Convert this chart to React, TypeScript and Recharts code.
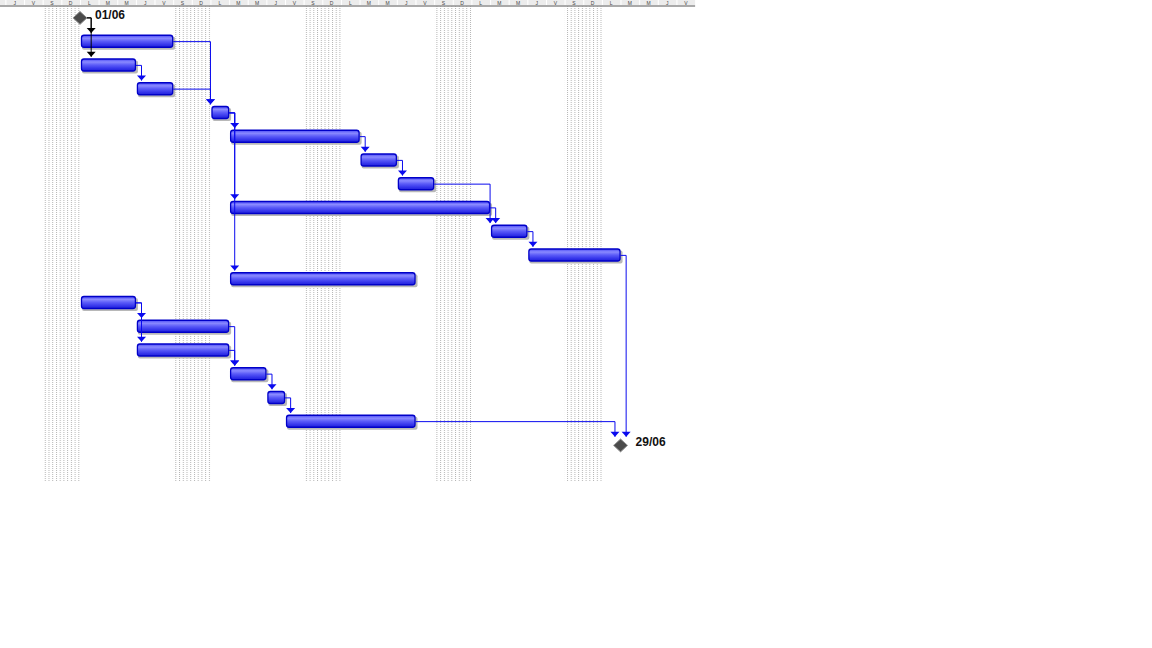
import React from 'react'
import { ComposedChart, Bar, XAxis, YAxis, ReferenceArea, ReferenceLine, ReferenceDot } from 'recharts'

// rows of the plan, top to bottom. days are counted from Monday 01/06
const taskIds = ['M0', 'T1', 'T2', 'T3', 'T4', 'T5', 'T6', 'T7', 'T8', 'T9', 'T10', 'T11', 'T12', 'T13', 'T14', 'T15', 'T16', 'T17', 'M18', '']
const taskStarts = [null, 0, 0, 3, 7, 8, 15, 17, 8, 22, 24, 8, 0, 3, 3, 8, 10, 11, null, null]
const taskEnds = [null, 5, 3, 5, 8, 15, 17, 19, 22, 24, 29, 18, 3, 8, 8, 10, 11, 18, null, null]

const milestones = [
    { row: 0, day: 0, label: '01/06' },
    { row: 18, day: 29, label: '29/06' },
]

// predecessor -> successor (row numbers)
const links: [number, number][] = [
    [0, 1], [0, 2], [1, 4], [2, 3], [3, 4], [4, 5], [4, 8], [4, 11], [5, 6], [6, 7],
    [7, 9], [8, 9], [9, 10], [10, 18], [17, 18], [12, 13], [12, 14], [13, 15], [14, 15],
    [15, 16], [16, 17],
]

// weekends (start day, end day)
const weekends = [[-2, 0], [5, 7], [12, 14], [19, 21], [26, 28]]

// header: one cell per day, ticks at the right edge of each cell (days -5 .. 32)
const headerTicks = [-4, -3, -2, -1, 0, 1, 2, 3, 4, 5, 6, 7, 8, 9, 10, 11, 12, 13, 14, 15, 16, 17, 18, 19, 20, 21, 22, 23, 24, 25, 26, 27, 28, 29, 30, 31, 32, 33]
const headerLetters = ['M', 'J', 'V', 'S', 'D', 'L', 'M', 'M', 'J', 'V', 'S', 'D', 'L', 'M', 'M', 'J', 'V', 'S', 'D', 'L', 'M', 'M', 'J', 'V', 'S', 'D', 'L', 'M', 'M', 'J', 'V', 'S', 'D', 'L', 'M', 'M', 'J', 'V']

const DAY_PX = 18.64
const ORIGIN_PX = 80
const X_MIN = -ORIGIN_PX / DAY_PX
const X_MAX = 33
const PLOT_RIGHT = ORIGIN_PX + X_MAX * DAY_PX
const ARROW_GAP = 0.36

const rows = taskIds.map((task, i) => ({
    task,
    row: i,
    span: taskStarts[i] == null ? null : [taskStarts[i], taskEnds[i]],
}))

const isMilestone = (row: number) => milestones.some(m => m.row === row)
const msDay = (row: number) => milestones.find(m => m.row === row)!.day

function linkGeometry([from, to]: [number, number]) {
    const srcEnd = isMilestone(from) ? msDay(from) : (taskEnds[from] as number)
    let elbow: number
    if (isMilestone(to)) {
        const d = msDay(to)
        elbow = srcEnd >= d ? srcEnd + 0.3 : d - 0.3
    } else {
        const tgt = taskStarts[to] as number
        const off = isMilestone(from) ? 0.6 : 0.3
        elbow = tgt > srcEnd + off ? tgt : srcEnd + off
    }
    return { from, to, srcEnd, elbow, color: isMilestone(from) ? '#000000' : '#0a0aee' }
}

const HeaderCell = (props: any) => {
    const { x, index } = props
    const left = x - DAY_PX
    const mid = left + DAY_PX / 2
    return (
        <g>
            <rect x={left} y={0} width={DAY_PX} height={5} fill="#ececec" />
            <line x1={left + 0.5} x2={left + 0.5} y1={0} y2={5} stroke="#ffffff" />
            {mid > 3 && (
                <text x={mid} y={4.6} textAnchor="middle" fontSize={5}
                    fontFamily="Liberation Sans, Arial, sans-serif" fill="#444">{headerLetters[index]}</text>
            )}
        </g>
    )
}

const GanttBar = (props: any) => {
    const { x, y, width, height } = props
    if (!width || width <= 0) return <g />
    return (
        <g>
            <rect x={x + 2} y={y + 2} width={width} height={height} rx={2} fill="#b8b8b8" />
            <rect x={x + 1.5} y={y + 0.5} width={width - 2} height={height - 1} rx={2.5}
                fill="url(#barFill)" stroke="#0000c8" strokeWidth={1.3} />
        </g>
    )
}

const Arrow = (color: string) => (props: any) => {
    const { cx, cy } = props
    return <polygon points={`${cx - 4.5},${cy - 5} ${cx + 4.5},${cy - 5} ${cx},${cy}`} fill={color} />
}

const Diamond = (label: string) => (props: any) => {
    const { cx, cy } = props
    return (
        <g>
            <polygon points={`${cx},${cy - 6.5} ${cx + 7},${cy} ${cx},${cy + 6.5} ${cx - 7},${cy}`}
                fill="#4b4b4b" stroke="#9a9a9a" />
            <text x={cx + 15} y={cy + 1} fontSize={12} fontWeight="bold"
                fontFamily="Liberation Sans, Arial, sans-serif" fill="#111">{label}</text>
        </g>
    )
}

function App() {
    const geo = links.map(linkGeometry)
    return (
        <div style={{ position: 'absolute', left: 0, top: 0, width: 1152, height: 648, background: '#fff' }}>
            <ComposedChart width={1152} height={648} data={rows} layout="vertical"
                margin={{ top: 0, right: 1152 - PLOT_RIGHT, bottom: 167, left: 0 }}>
                <defs>
                    <linearGradient id="barFill" x1="0" y1="0" x2="0" y2="1">
                        <stop offset="0" stopColor="#4a4af5" />
                        <stop offset="0.25" stopColor="#8a8aff" />
                        <stop offset="0.5" stopColor="#5c5cf8" />
                        <stop offset="0.8" stopColor="#3434ea" />
                        <stop offset="1" stopColor="#2020d8" />
                    </linearGradient>
                    <pattern id="weekend" patternUnits="userSpaceOnUse" width={3.73} height={2}>
                        <rect x={0} y={0} width={1} height={1} fill="#b4b4b4" />
                    </pattern>
                </defs>
                <XAxis type="number" orientation="top" domain={[X_MIN, X_MAX]} allowDataOverflow
                    ticks={headerTicks} interval={0} height={6} tickLine={false}
                    axisLine={{ stroke: '#8c8c8c', strokeWidth: 1.5 }} tick={<HeaderCell />} />
                <YAxis type="category" dataKey="task" hide />
                <YAxis yAxisId="n" type="number" dataKey="row" domain={[-0.5, 19.5]} allowDataOverflow hide />

                {weekends.map(([a, b], i) => (
                    <ReferenceArea key={'w' + i} x1={a} x2={b} fill="url(#weekend)" fillOpacity={1} stroke="none" />
                ))}

                {geo.map((g, i) => (
                    <ReferenceLine key={'h' + i} yAxisId="n" stroke={g.color} strokeWidth={1}
                        segment={[{ x: g.srcEnd, y: g.from }, { x: g.elbow, y: g.from }]} />
                ))}
                {geo.map((g, i) => (
                    <ReferenceLine key={'v' + i} yAxisId="n" stroke={g.color} strokeWidth={1}
                        segment={[{ x: g.elbow, y: g.from }, { x: g.elbow, y: g.to - ARROW_GAP }]} />
                ))}

                <Bar dataKey="span" barSize={13} shape={<GanttBar />} isAnimationActive={false} />

                {geo.map((g, i) => (
                    <ReferenceDot key={'a' + i} yAxisId="n" x={g.elbow} y={g.to - ARROW_GAP} r={4}
                        shape={Arrow(g.color)} />
                ))}
                {milestones.map(m => (
                    <ReferenceDot key={m.label} yAxisId="n" x={m.day} y={m.row} r={7} shape={Diamond(m.label)} />
                ))}
            </ComposedChart>
        </div>
    )
}

export default App
